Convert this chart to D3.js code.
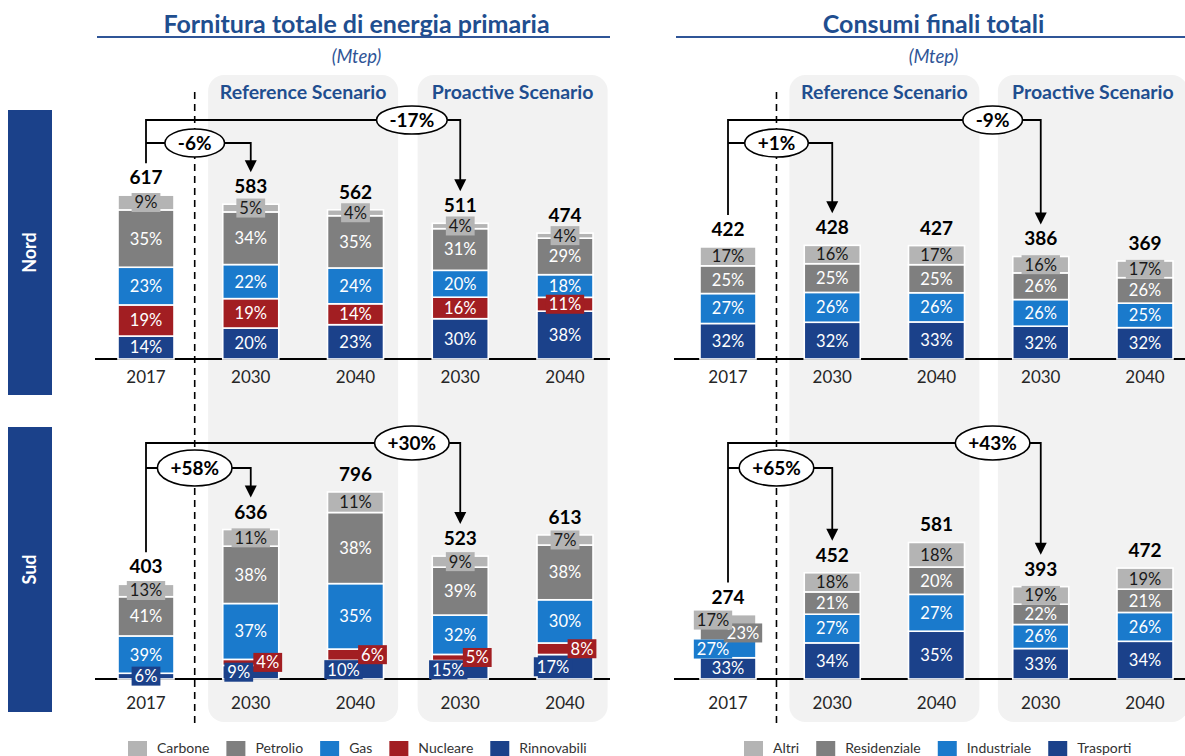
<!DOCTYPE html>
<html><head><meta charset="utf-8">
<script src="https://cdn.jsdelivr.net/npm/d3@7"></script>
<style>body{margin:0;background:#fff}svg{display:block;font-family:Lato,"Open Sans",sans-serif}</style>
</head><body><svg id="c" width="1185" height="756"></svg>
<script>
// ---------- DATA ----------
const years = ["2017","2030","2040","2030","2040"];
const scenarios = ["Reference Scenario","Proactive Scenario"];
const regions = ["Nord","Sud"];
const supplySources = ["Rinnovabili","Nucleare","Gas","Petrolio","Carbone"];      // bottom -> top
const consumptionSectors = ["Trasporti","Industriale","Residenziale","Altri"];   // bottom -> top
const supplyNordTotals = [617,583,562,511,474];
const supplySudTotals  = [403,636,796,523,613];
const supplyNordShares = [[14,19,23,35,9],[20,19,22,34,5],[23,14,24,35,4],[30,16,20,31,4],[38,11,18,29,4]];
const supplySudShares  = [[6,0,39,41,13],[9,4,37,38,11],[10,6,35,38,11],[15,5,32,39,9],[17,8,30,38,7]];
const consNordTotals = [422,428,427,386,369];
const consSudTotals  = [274,452,581,393,472];
const consNordShares = [[32,27,25,17],[32,26,25,16],[33,26,25,17],[32,26,26,16],[32,25,26,17]];
const consSudShares  = [[33,27,23,17],[34,27,21,18],[35,27,20,18],[33,26,22,19],[34,26,21,19]];
const supplyNordChanges = ["-6%","-17%"];
const supplySudChanges  = ["+58%","+30%"];
const consNordChanges = ["+1%","-9%"];
const consSudChanges  = ["+65%","+43%"];

// ---------- STYLE ----------
const C = {navy:"#1b418a", gas:"#1a7acc", nuc:"#a21e22", pet:"#7f7f7f", carb:"#b4b4b4", title:"#1f4e8f", bg:"#f2f2f2"};
const supplyColors = [C.navy, C.nuc, C.gas, C.pet, C.carb];
const consColors = [C.navy, C.gas, C.pet, C.carb];
const LBL = 16.5;

const svg = d3.select("#c");

const panels = [
  {title:"Fornitura totale di energia primaria", xRange:[146,565], line:[97,610], keys:supplySources, colors:supplyColors, special:true,
   data:{Nord:{totals:supplyNordTotals, shares:supplyNordShares, changes:supplyNordChanges},
         Sud:{totals:supplySudTotals, shares:supplySudShares, changes:supplySudChanges}}, legendStart:128},
  {title:"Consumi finali totali", xRange:[728,1145], line:[676,1185], keys:consumptionSectors, colors:consColors, special:false,
   data:{Nord:{totals:consNordTotals, shares:consNordShares, changes:consNordChanges},
         Sud:{totals:consSudTotals, shares:consSudShares, changes:consSudChanges}}, legendStart:744}
];

const rows = [
  {name:"Nord", y: d3.scaleLinear().domain([0,900]).range([359,120]), box:[110,395], outer:120, inner:143, yearY:383, ell:[14,14]},
  {name:"Sud",  y: d3.scaleLinear().domain([0,1000]).range([679,444]), box:[427,712], outer:443, inner:468, yearY:709, ell:[17,18]}
];

rows.forEach(r=>{
  svg.append("rect").attr("x",8).attr("y",r.box[0]).attr("width",44).attr("height",r.box[1]-r.box[0]).attr("fill",C.navy);
  const cy=(r.box[0]+r.box[1])/2;
  svg.append("text").attr("transform",`translate(30,${cy}) rotate(-90)`).attr("text-anchor","middle").attr("dy","0.35em")
    .attr("fill","#fff").attr("font-weight","bold").attr("font-size",18).text(r.name);
});

function measure(txt, size, weight){
  const t = svg.append("text").attr("font-size",size).attr("font-weight",weight||"normal").text(txt);
  const w = t.node().getComputedTextLength(); t.remove(); return w;
}

panels.forEach(p=>{
  const x = d3.scalePoint().domain(d3.range(years.length)).range(p.xRange);
  const step = x.step();
  const bw = 56;
  const cx = (p.line[0]+p.line[1])/2 + 3;
  const g = svg.append("g");

  const bgW = 190;
  [[1,2],[3,4]].forEach((pair,si)=>{
    const c = (x(pair[0])+x(pair[1]))/2;
    g.append("rect").attr("x",c-bgW/2).attr("y",75).attr("width",bgW).attr("height",647).attr("rx",16).attr("fill",C.bg);
    g.append("text").attr("x",c).attr("y",99).attr("text-anchor","middle").attr("font-size",19.5).attr("font-weight","bold")
      .attr("fill",C.title).text(scenarios[si]);
  });

  g.append("text").attr("x",cx).attr("y",33).attr("text-anchor","middle").attr("font-size",25).attr("font-weight","bold")
    .attr("fill",C.title).text(p.title);
  g.append("line").attr("x1",p.line[0]).attr("x2",p.line[1]).attr("y1",37).attr("y2",37).attr("stroke","#2f5597").attr("stroke-width",2);
  g.append("text").attr("x",cx).attr("y",63).attr("text-anchor","middle").attr("font-size",18.5).attr("font-style","italic")
    .attr("fill","#2f5597").text("(Mtep)");

  const dashX = x(0) + step*0.465;
  g.append("line").attr("x1",dashX).attr("x2",dashX).attr("y1",92).attr("y2",728).attr("stroke","#000").attr("stroke-width",1.6).attr("stroke-dasharray","7,5");

  rows.forEach(r=>{
    const d = p.data[r.name];
    const y = r.y, base = y(0);
    g.append("line").attr("x1",p.line[0]-2).attr("x2",p.line[1]).attr("y1",base).attr("y2",base).attr("stroke","#000").attr("stroke-width",2);
    years.forEach((yr,i)=>{
      g.append("text").attr("x",x(i)).attr("y",r.yearY).attr("text-anchor","middle").attr("font-size",17).attr("fill","#262626").text(yr);
    });

    const bars = d.totals.map((tot,i)=>{
      const sh = d.shares[i]; const s = d3.sum(sh);
      const row = {}; p.keys.forEach((k,j)=>row[k]=tot*sh[j]/s);
      row.idx=i; return row;
    });
    const stack = d3.stack().keys(p.keys)(bars);

    stack.forEach((layer,j)=>{
      g.append("g").selectAll("rect").data(layer).join("rect")
        .attr("x",dd=>x(dd.data.idx)-bw/2).attr("width",bw)
        .attr("y",dd=>y(dd[1])).attr("height",dd=>Math.max(0,y(dd[0])-y(dd[1])))
        .attr("fill",p.colors[j]).attr("stroke","#fff").attr("stroke-width",1.6);
    });

    const labG = g.append("g");
    d.totals.forEach((tot,i)=>{
      const segs = p.keys.map((k,j)=>{
        const L = stack[j][i];
        return {j, share:d.shares[i][j], h:y(L[0])-y(L[1]), mid:(y(L[0])+y(L[1]))/2, dx:0};
      });
      segs.forEach(s=>{s.small = s.h < 18; s.done=false;});
      if (p.special){
        const rn=segs[0], nu=segs[1];
        if (nu.share>0 && nu.h<14 && rn.h+nu.h<40){ rn.dx=-12; nu.dx=17; rn.small=nu.small=true; rn.done=nu.done=true; }
      }
      const vis = segs.filter(s=>s.share>0);
      let run=[];
      const flush=()=>{ if(run.length>1) run.forEach((s,k)=>s.dx = k%2===0?-15:15); run=[]; };
      vis.forEach(s=>{ if(s.small && !s.done) run.push(s); else flush(); });
      flush();
      segs.forEach(s=>{
        if (s.share<=0) return;
        const txt = s.share+"%";
        const light = p.colors[s.j]===C.carb;
        const lx = x(i)+s.dx;
        if (s.small){
          const tw = measure(txt,LBL);
          labG.append("rect").attr("x",lx-tw/2-3).attr("y",s.mid-9.5).attr("width",tw+6).attr("height",19).attr("fill",p.colors[s.j]);
        }
        labG.append("text").attr("x",lx).attr("y",s.mid).attr("dy","0.36em").attr("text-anchor","middle").attr("font-size",LBL)
          .attr("fill",light?"#1a1a1a":"#fff").text(txt);
      });
      labG.append("text").attr("x",x(i)).attr("y",y(tot)-11).attr("text-anchor","middle").attr("font-size",19).attr("font-weight","bold")
        .attr("fill","#000").text(tot);
    });

    const aG = g.append("g");
    const x0 = x(0), top0 = y(d.totals[0]) - 32;
    const tI = y(d.totals[1]) - 32, tO = y(d.totals[3]) - 32;
    const path = `M${x0},${top0}V${r.outer}H${x(3)}V${tO-10} M${x0},${r.inner}H${x(1)}V${tI-10}`;
    aG.append("path").attr("d",path).attr("fill","none").attr("stroke","#000").attr("stroke-width",1.8);
    [[x(1),tI],[x(3),tO]].forEach(([ax,ay])=>{
      aG.append("path").attr("d",`M${ax-6},${ay-12}L${ax+6},${ay-12}L${ax},${ay}Z`).attr("fill","#000");
    });
    const ells = [[dashX, r.inner, d.changes[0], r.ell[1]], [(x(2)+x(3))/2+4, r.outer, d.changes[1], r.ell[0]]];
    ells.forEach(([ex,ey,txt,ry])=>{
      const tw = measure(txt,19,"bold");
      aG.append("ellipse").attr("cx",ex).attr("cy",ey).attr("rx",tw/2+13).attr("ry",ry).attr("fill","#fff").attr("stroke","#000").attr("stroke-width",1.6);
      aG.append("text").attr("x",ex).attr("y",ey).attr("dy","0.36em").attr("text-anchor","middle").attr("font-size",19).attr("font-weight","bold").text(txt);
    });
  });

  const lg = g.append("g");
  let lx = p.legendStart;
  p.keys.map((k,j)=>({k,c:p.colors[j]})).reverse().forEach(it=>{
    lg.append("rect").attr("x",lx).attr("y",741).attr("width",19).attr("height",15).attr("fill",it.c);
    lg.append("text").attr("x",lx+29).attr("y",753).attr("font-size",14).attr("fill","#333").text(it.k);
    lx += 29 + measure(it.k,14) + 17;
  });
});
</script></body></html>
